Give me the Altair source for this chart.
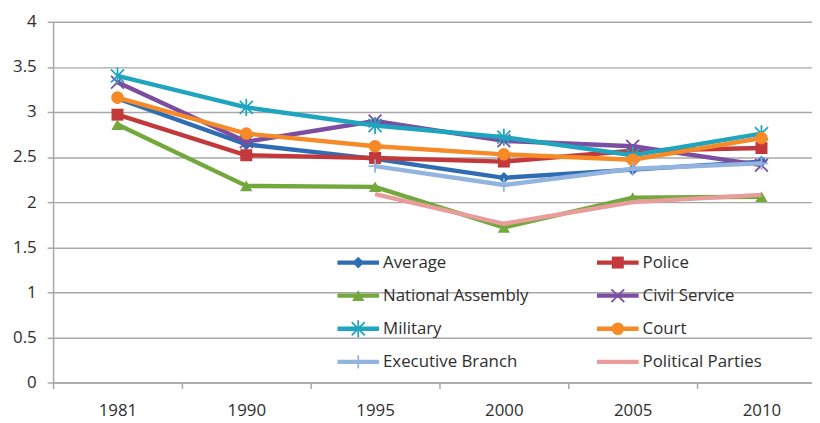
import altair as alt
import pandas as pd

years = ["1981", "1990", "1995", "2000", "2005", "2010"]
series_names = ["Average", "Police", "National Assembly", "Civil Service",
                "Military", "Court", "Executive Branch", "Political Parties"]

average = [3.15, 2.64, 2.48, 2.27, 2.36, 2.45]
police = [2.97, 2.52, 2.49, 2.45, 2.57, 2.60]
national_assembly = [2.86, 2.18, 2.17, 1.72, 2.05, 2.06]
civil_service = [3.33, 2.67, 2.90, 2.68, 2.62, 2.41]
military = [3.40, 3.05, 2.85, 2.72, 2.52, 2.76]
court = [3.16, 2.76, 2.62, 2.53, 2.47, 2.71]
executive_branch = [None, None, 2.40, 2.19, 2.37, 2.43]
political_parties = [None, None, 2.09, 1.76, 2.00, 2.08]

all_values = [average, police, national_assembly, civil_service,
              military, court, executive_branch, political_parties]

colors = ["#2E6DB4", "#C3393B", "#72A83C", "#7B4EA1",
          "#1FA5BE", "#F68A27", "#93B4DF", "#E99C9C"]

filled_names = ["Average", "Police", "National Assembly", "Court"]
stroked_names = ["Civil Service", "Military", "Executive Branch"]
marker_names = filled_names + stroked_names
marker_shapes = ["diamond", "square", "triangle-up", "circle",
                 "M-1,-1L1,1M-1,1L1,-1",
                 "M-1,-1L1,1M-1,1L1,-1M0,-1.3L0,1.3",
                 "M-1,0L1,0M0,-1L0,1"]
marker_sizes = [140, 180, 180, 200, 160, 220, 180]

rows = []
for k, (name, vals) in enumerate(zip(series_names, all_values)):
    for yr, v in zip(years, vals):
        if v is not None:
            rows.append({"series": name, "year": yr, "value": v, "k": k})
df = pd.DataFrame(rows)

PLOT_W = 766
RANGE_W = 780
PLOT_H = 364
GRID = "#A8A8A8"
TXT = "#2E2E2E"
FONT = "Open Sans"
FS = 17

color = alt.Color("series:N", scale=alt.Scale(domain=series_names, range=colors), legend=None)
shape = alt.Shape("series:N", scale=alt.Scale(domain=marker_names, range=marker_shapes), legend=None)
size = alt.Size("series:N", scale=alt.Scale(domain=marker_names, range=marker_sizes), legend=None)

x = alt.X("year:N", sort=years,
          scale=alt.Scale(type="band", domain=years, range=[0, RANGE_W], paddingInner=0, paddingOuter=0),
          bandPosition=0.5,
          axis=alt.Axis(title=None, labelAngle=0, tickBand="extent", grid=False,
                        domainColor=GRID, domainWidth=1.5, tickColor=GRID, tickWidth=1.5,
                        tickSize=6, labelPadding=14, labelFontSize=FS, labelColor=TXT, labelFont=FONT))
y = alt.Y("value:Q", scale=alt.Scale(domain=[0, 4], nice=False),
          axis=alt.Axis(title=None, values=[0, 0.5, 1, 1.5, 2, 2.5, 3, 3.5, 4],
                        labelExpr="'' + datum.value", grid=True, gridColor=GRID, gridWidth=1.5,
                        domainColor=GRID, domainWidth=1.5, tickColor=GRID, tickWidth=1.5,
                        tickSize=6, labelPadding=11, labelFontSize=FS, labelColor=TXT, labelFont=FONT))

base = alt.Chart(df)
layers = []
for name in series_names:
    sub = base.transform_filter(alt.datum.series == name)
    layers.append(sub.mark_line(strokeWidth=4.4).encode(x=x, y=y, color=color))
    if name in filled_names:
        layers.append(sub.mark_point(filled=True, opacity=1).encode(x=x, y=y, color=color, shape=shape, size=size))
    elif name in stroked_names:
        layers.append(sub.mark_point(filled=False, opacity=1, strokeWidth=1.8).encode(
            x=x, y=y, color=color, shape=shape, size=size))
main = alt.layer(*layers)

# legend (inside plot area, two columns)
leg_rows = []
for i, name in enumerate(series_names):
    col, row = i % 2, i // 2
    x1 = 287 + col * 262
    leg_rows.append({"series": name, "lx1": x1, "lx2": x1 + 42, "lxm": x1 + 21,
                     "tx": x1 + 46, "ly": 243 + row * 33.4})
ldf = pd.DataFrame(leg_rows)
lbase = alt.Chart(ldf)
lx = alt.X("lx1:Q", scale=None, axis=None)
ly = alt.Y("ly:Q", scale=None, axis=None)
leg_lines = lbase.mark_rule(strokeWidth=4.4).encode(x=lx, x2="lx2:Q", y=ly, color=color)
leg_filled = lbase.transform_filter(alt.FieldOneOfPredicate(field="series", oneOf=filled_names)).mark_point(
    filled=True, opacity=1).encode(x=alt.X("lxm:Q", scale=None, axis=None), y=ly, color=color, shape=shape, size=size)
leg_stroked = lbase.transform_filter(alt.FieldOneOfPredicate(field="series", oneOf=stroked_names)).mark_point(
    filled=False, opacity=1, strokeWidth=1.8).encode(x=alt.X("lxm:Q", scale=None, axis=None), y=ly,
                                                    color=color, shape=shape, size=size)
leg_text = lbase.mark_text(align="left", baseline="middle", fontSize=FS, font=FONT, color=TXT).encode(
    x=alt.X("tx:Q", scale=None, axis=None), y=ly, text="series:N")
legend = alt.layer(leg_lines, leg_filled, leg_stroked, leg_text)

chart = alt.layer(main, legend).resolve_scale(x="independent", y="independent").properties(
    width=PLOT_W, height=PLOT_H,
    autosize=alt.AutoSizeParams(type="none"),
    padding={"left": 45.5, "top": 12, "right": 0, "bottom": 40},
).configure_view(stroke=None)

chart.save("out.html", embed_options={"renderer": "svg", "actions": False})
